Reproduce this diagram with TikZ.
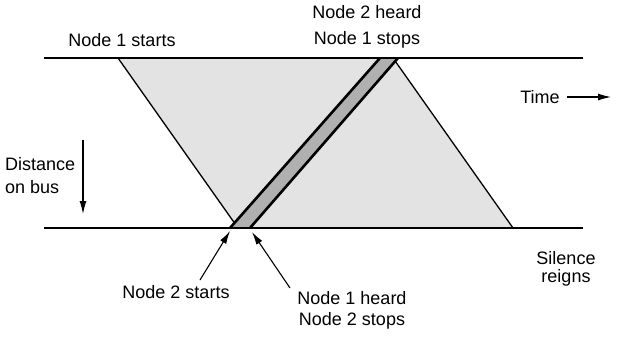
\documentclass[tikz,border=0pt]{standalone}
\usepackage{fontspec}
\setmainfont{Liberation Sans}
\usetikzlibrary{arrows.meta}
\begin{document}
\begin{tikzpicture}[x=1pt,y=-1pt,
  lbl/.style={font=\fontsize{18}{20}\selectfont, inner sep=0pt},
  busline/.style={line width=1.6pt},
  edgeline/.style={line width=1.3pt},
  bandline/.style={line width=2.6pt},
  pointer/.style={line width=1.1pt,-{Latex[length=13pt,width=7pt]}}]
\useasboundingbox (0,0) rectangle (629,354);
% bus ends
\coordinate (topL) at (44,58);
\coordinate (topR) at (583,58);
\coordinate (botL) at (44,228);
\coordinate (botR) at (583,228);
% light region
\coordinate (TL) at (118,58);
\coordinate (BL) at (238,228);
\coordinate (TR) at (393,58);
\coordinate (BR) at (513,228);
% band
\coordinate (B1) at (230,228);
\coordinate (B2) at (250,228);
\coordinate (B3) at (398,58);
\coordinate (B4) at (380,58);
\fill[gray!22] (TL) -- (TR) -- (BR) -- (BL) -- cycle;
\draw[edgeline] (TL) -- (BL);
\draw[edgeline] (TR) -- (BR);
\fill[gray!62] (B1) -- (B2) -- (B3) -- (B4) -- cycle;
\draw[bandline] (B1) -- (B4);
\draw[bandline] (B2) -- (B3);
\draw[busline] (topL) -- (topR);
\draw[busline] (botL) -- (botR);
% labels
\node[lbl] (n1s) at (122,40) {Node 1 starts};
\node[lbl] (n2h) at (367,12) {Node 2 heard};
\node[lbl] (n1t) at (367,40) {Node 1 stops};
\node[lbl,anchor=west] (dist) at (5,164) {Distance};
\node[lbl,anchor=west] (onbus) at (5,187) {on bus};
\node[lbl] (time) at (540,97) {Time};
\node[lbl] (sil) at (566,258) {Silence};
\node[lbl] (reg) at (566,278) {reigns};
\node[lbl] (n2st) at (176,292) {Node 2 starts};
\node[lbl] (n1h) at (352,298) {Node 1 heard};
\node[lbl] (n2sp) at (352,321) {Node 2 stops};
% arrows
\coordinate (dA) at (83,140);
\coordinate (dB) at (83,214);
\draw[pointer] (dA) -- (dB);
\coordinate (tA) at (567,97);
\coordinate (tB) at (611,97);
\draw[pointer] (tA) -- (tB);
\coordinate (p1) at (200,280);
\coordinate (q1) at (230,231);
\draw[pointer] (p1) -- (q1);
\coordinate (p2) at (290,288);
\coordinate (q2) at (252,232);
\draw[pointer] (p2) -- (q2);
\end{tikzpicture}
\end{document}
